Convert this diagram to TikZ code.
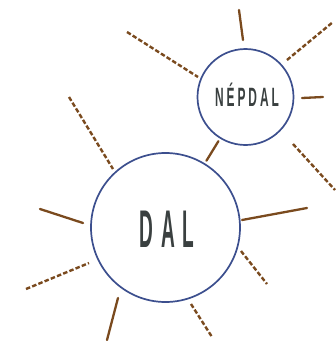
\documentclass[tikz,border=0pt]{standalone}
\usepackage{fontspec}
\setmainfont{Liberation Sans}
\usepackage{graphicx}
\definecolor{ringblue}{HTML}{3C4F8E}
\definecolor{raybrown}{HTML}{7A4A1E}
\definecolor{inkgray}{HTML}{3A4040}
\begin{document}
\begin{tikzpicture}[x=1pt,y=-1pt,
  ring/.style={circle,draw=ringblue,line width=1.7pt,inner sep=0pt,fill=white},
  raysolid/.style={draw=raybrown,line width=2.3pt,line cap=round},
  raydash/.style={draw=raybrown,line width=2.4pt,dash pattern=on 4.5pt off 2.2pt},
  word/.style={text=inkgray,inner sep=0pt,anchor=base}]
\useasboundingbox (0,0) rectangle (336,341);
% rays
\coordinate (a1) at (127,32);  \coordinate (b1) at (198,77);
\coordinate (a2) at (239,10);  \coordinate (b2) at (243,40);
\coordinate (a3) at (287,60);  \coordinate (b3) at (333,22);
\coordinate (a4) at (302,98);  \coordinate (b4) at (323,97);
\coordinate (a5) at (293,144); \coordinate (b5) at (335,190);
\coordinate (a7) at (69,97);   \coordinate (b7) at (113,169);
\coordinate (a8) at (40,209);  \coordinate (b8) at (83,223);
\coordinate (a9) at (242,220); \coordinate (b9) at (307,208);
\coordinate (a10) at (26,289); \coordinate (b10) at (89,263);
\coordinate (a11) at (241,251);\coordinate (b11) at (267,284);
\coordinate (a12) at (118,298);\coordinate (b12) at (107,340);
\coordinate (a13) at (191,304);\coordinate (b13) at (212,337);
\draw[raydash] (a1) -- (b1);
\draw[raysolid] (a2) -- (b2);
\draw[raydash] (a3) -- (b3);
\draw[raysolid] (a4) -- (b4);
\draw[raydash] (a5) -- (b5);
\draw[raydash] (a7) -- (b7);
\draw[raysolid] (a8) -- (b8);
\draw[raysolid] (a9) -- (b9);
\draw[raydash] (a10) -- (b10);
\draw[raydash] (a11) -- (b11);
\draw[raysolid] (a12) -- (b12);
\draw[raydash] (a13) -- (b13);
% circles
\node[ring,minimum size=149pt] (dal) at (165.5,227.5) {};
\node[ring,minimum size=96pt] (nepdal) at (245.5,97) {};
\draw[raysolid,shorten <=3pt,shorten >=3pt] (nepdal) -- (dal);
% labels
\node[word] (dallabel) at (167,247) {\scalebox{0.36}[1]{\fontsize{53}{53}\selectfont\bfseries\addfontfeature{LetterSpace=40}DAL}};
\node[word] (nepdallabel) at (247,106) {\scalebox{0.45}[1]{\fontsize{26.5}{26.5}\selectfont\bfseries\addfontfeature{LetterSpace=25}NÉPDAL}};
\end{tikzpicture}
\end{document}
